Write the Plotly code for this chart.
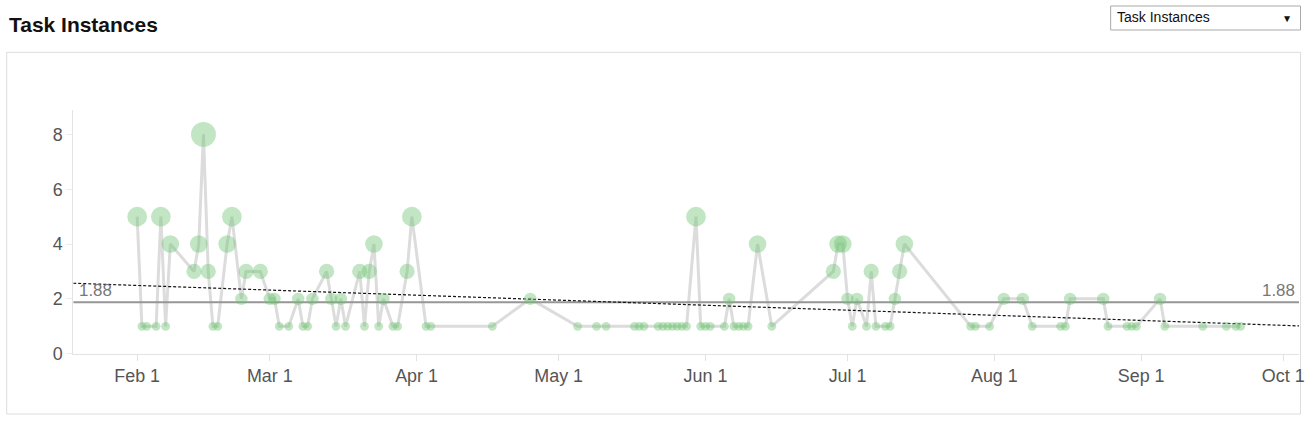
import numpy as np
import pandas as pd
import plotly.graph_objects as go

TITLE = "Task Instances"
DROPDOWN_LABEL = "Task Instances"

dates = [
    "2019-02-01", "2019-02-02", "2019-02-03", "2019-02-05", "2019-02-06", "2019-02-07", "2019-02-08",
    "2019-02-13", "2019-02-14", "2019-02-15", "2019-02-16", "2019-02-17", "2019-02-18", "2019-02-20",
    "2019-02-21", "2019-02-23", "2019-02-24", "2019-02-27",
    "2019-03-01", "2019-03-02", "2019-03-03", "2019-03-05", "2019-03-07", "2019-03-08", "2019-03-09",
    "2019-03-10", "2019-03-13", "2019-03-14", "2019-03-15", "2019-03-16", "2019-03-17", "2019-03-20",
    "2019-03-21", "2019-03-22", "2019-03-23", "2019-03-24", "2019-03-25", "2019-03-27", "2019-03-28",
    "2019-03-30", "2019-03-31",
    "2019-04-03", "2019-04-04", "2019-04-17", "2019-04-25",
    "2019-05-05", "2019-05-09", "2019-05-11", "2019-05-17", "2019-05-18", "2019-05-19", "2019-05-22",
    "2019-05-23", "2019-05-24", "2019-05-25", "2019-05-26", "2019-05-27", "2019-05-28", "2019-05-30",
    "2019-05-31",
    "2019-06-01", "2019-06-02", "2019-06-05", "2019-06-06", "2019-06-07", "2019-06-08", "2019-06-09",
    "2019-06-10", "2019-06-12", "2019-06-15", "2019-06-28", "2019-06-29", "2019-06-30",
    "2019-07-01", "2019-07-02", "2019-07-03", "2019-07-05", "2019-07-06", "2019-07-07", "2019-07-09",
    "2019-07-10", "2019-07-11", "2019-07-12", "2019-07-13", "2019-07-27", "2019-07-28", "2019-07-31",
    "2019-08-03", "2019-08-07", "2019-08-09", "2019-08-15", "2019-08-16", "2019-08-17", "2019-08-24",
    "2019-08-25", "2019-08-29", "2019-08-30", "2019-08-31",
    "2019-09-05", "2019-09-06", "2019-09-14", "2019-09-19", "2019-09-21", "2019-09-22",
]

instances = [
    5, 1, 1, 1, 5, 1, 4,
    3, 4, 8, 3, 1, 1, 4,
    5, 2, 3, 3,
    2, 2, 1, 1, 2, 1, 1,
    2, 3, 2, 1, 2, 1, 3,
    1, 3, 4, 1, 2, 1, 1,
    3, 5,
    1, 1, 1, 2,
    1, 1, 1, 1, 1, 1, 1,
    1, 1, 1, 1, 1, 1, 5,
    1,
    1, 1, 1, 2, 1, 1, 1,
    1, 4, 1, 3, 4, 4,
    2, 1, 2, 1, 3, 1, 1,
    1, 2, 3, 4, 1, 1, 1,
    2, 2, 1, 1, 1, 2, 2,
    1, 1, 1, 1,
    2, 1, 1, 1, 1, 1,
]

x_range = ["2019-01-18 12:00", "2019-10-04 08:00"]
y_range = [0, 8.89]
y_ticks = [0, 2, 4, 6, 8]
x_ticks = ["2019-02-01", "2019-03-01", "2019-04-01", "2019-05-01", "2019-06-01",
           "2019-07-01", "2019-08-01", "2019-09-01", "2019-10-01"]

W_REF, H_REF = 1309, 422   # design coordinates (pixels of the reference)
W, H = 1314, 432           # page size (the capture is scaled down to 1309x422)
FS = H / H_REF             # font compensation

dt = pd.to_datetime(dates)
vals = np.array(instances, dtype=float)
mean_val = vals.mean()

# linear trend
t0 = pd.Timestamp("2019-01-01")
days = (dt - t0) / pd.Timedelta(days=1)
slope, intercept = np.polyfit(np.asarray(days, dtype=float), vals, 1)
xr = pd.to_datetime(x_range)
xr_days = np.asarray((xr - t0) / pd.Timedelta(days=1), dtype=float)
trend_y = slope * xr_days + intercept

sizes = np.sqrt(74.0 * vals) * FS

def py(y):
    return 1 - y / H_REF

def px(x):
    return x / W_REF

fig = go.Figure()

fig.add_trace(go.Scatter(
    x=dt, y=vals, mode="lines",
    line=dict(color="rgb(220,220,220)", width=3),
    hoverinfo="skip", showlegend=False,
))
fig.add_trace(go.Scatter(
    x=xr, y=[mean_val, mean_val], mode="lines",
    line=dict(color="rgb(150,150,150)", width=2),
    hoverinfo="skip", showlegend=False,
))
fig.add_trace(go.Scatter(
    x=xr, y=trend_y, mode="lines",
    line=dict(color="rgb(20,20,20)", width=1.2, dash="3px,2px"),
    hoverinfo="skip", showlegend=False,
))
fig.add_trace(go.Scatter(
    x=dt, y=vals, mode="markers",
    marker=dict(size=sizes, color="rgba(110,196,112,0.6)", line=dict(width=0)),
    showlegend=False,
))

fig.update_layout(
    width=W, height=H, autosize=False,
    margin=dict(l=0, r=0, t=0, b=0, pad=0),
    paper_bgcolor="white", plot_bgcolor="white",
    font=dict(family="Liberation Sans, Arial, sans-serif", color="#555"),
    xaxis=dict(
        domain=[px(73.3), px(1300)], range=list(xr), type="date",
        tickvals=pd.to_datetime(x_ticks), tickformat="%b %-d",
        showgrid=False, zeroline=False,
        showline=True, linecolor="#e3e3e3", linewidth=1,
        ticks="outside", ticklen=6, tickcolor="#e3e3e3",
        tickfont=dict(size=17.5 * FS, color="#555"),
        fixedrange=True,
    ),
    yaxis=dict(
        domain=[py(353.7), py(110)], range=y_range, tickvals=y_ticks,
        showgrid=False, zeroline=False,
        showline=True, linecolor="#e3e3e3", linewidth=1,
        ticks="outside", ticklen=6, tickcolor="#ececec", ticklabelstandoff=0,
        tickfont=dict(size=17.5 * FS, color="#555"),
        fixedrange=True,
    ),
    shapes=[
        dict(type="rect", xref="paper", yref="paper",
             x0=px(6.7), x1=px(1301.5), y0=py(414), y1=py(52.3),
             line=dict(color="#dddddd", width=1), fillcolor="rgba(0,0,0,0)", layer="below"),
        dict(type="rect", xref="paper", yref="paper",
             x0=px(1111.5), x1=px(1301.5), y0=py(30), y1=py(6),
             line=dict(color="#a9a9a9", width=1), fillcolor="white"),
    ],
    annotations=[
        dict(text="<b>" + TITLE + "</b>", xref="paper", yref="paper",
             x=px(7), y=py(24), xanchor="left", yanchor="middle",
             showarrow=False, font=dict(size=20.5 * FS, color="#111")),
        dict(text=DROPDOWN_LABEL, xref="paper", yref="paper",
             x=px(1116), y=py(17.5), xanchor="left", yanchor="middle",
             showarrow=False, font=dict(size=13.7 * FS, color="#111")),
        dict(text="▼", xref="paper", yref="paper",
             x=px(1288), y=py(18), xanchor="center", yanchor="middle",
             showarrow=False, font=dict(size=10 * FS, color="#111")),
        dict(text=f"{mean_val:.2f}", xref="paper", yref="y",
             x=px(77), y=mean_val, xanchor="left", yanchor="bottom",
             showarrow=False, font=dict(size=16.5 * FS, color="#777")),
        dict(text=f"{mean_val:.2f}", xref="paper", yref="y",
             x=px(1298), y=mean_val, xanchor="right", yanchor="bottom",
             showarrow=False, font=dict(size=16.5 * FS, color="#777")),
    ],
)

post = (
    "var s=document.createElement('style');"
    "s.textContent='html,body{margin:0;padding:0;overflow:hidden;}';"
    "document.head.appendChild(s);"
)

fig.write_html(
    "out.html",
    config={"displayModeBar": False, "responsive": False},
    post_script=post,
)
